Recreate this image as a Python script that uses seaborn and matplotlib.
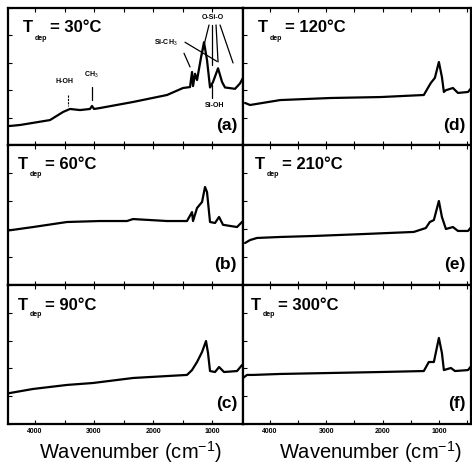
import matplotlib
matplotlib.use("Agg")
import matplotlib.pyplot as plt
import matplotlib.transforms as mtransforms
import seaborn as sns
import pandas as pd
from matplotlib.ticker import MultipleLocator

# ---------------- data ----------------
panel_ids = ["a", "b", "c", "d", "e", "f"]
temps = ["30", "60", "90", "120", "210", "300"]

wn_a = [4450, 4424, 4254, 3746, 3525, 3407, 3237, 3068, 3034, 3000, 2898, 2339, 1763, 1492,
        1373, 1339, 1322, 1288, 1254, 1186, 1136, 1085, 1034, 983, 898, 830, 780, 610, 525, 475]
ab_a = [0.139, 0.139, 0.146, 0.182, 0.241, 0.263, 0.255, 0.263, 0.285, 0.263, 0.270, 0.314, 0.365, 0.416,
        0.423, 0.533, 0.43, 0.52, 0.474, 0.64, 0.75, 0.62, 0.42, 0.46, 0.56, 0.46, 0.42, 0.41, 0.45, 0.49]

wn_b = [4450, 4390, 4034, 3458, 2898, 2441, 2339, 1763, 1424, 1339, 1322, 1254, 1169, 1119, 1085,
        1034, 949, 881, 814, 576, 492]
ab_b = [0.39, 0.393, 0.414, 0.45, 0.457, 0.457, 0.471, 0.457, 0.457, 0.521, 0.457, 0.55, 0.593, 0.70, 0.664,
        0.45, 0.443, 0.486, 0.43, 0.414, 0.45]

wn_c = [4450, 4424, 4034, 3458, 3017, 2339, 1763, 1424, 1339, 1254, 1169, 1102, 1068, 1034, 949, 881,
        797, 576, 492]
ab_c = [0.22, 0.223, 0.252, 0.281, 0.295, 0.331, 0.345, 0.353, 0.388, 0.446, 0.518, 0.597, 0.511, 0.381,
        0.374, 0.41, 0.374, 0.381, 0.424]

wn_d = [4446, 4357, 3821, 2929, 2036, 1268, 1196, 1143, 1071, 1036, 1000, 946, 911, 875, 750, 661, 482, 411]
ab_d = [0.307, 0.292, 0.328, 0.343, 0.35, 0.365, 0.416, 0.453, 0.49, 0.547, 0.606, 0.496, 0.387, 0.40,
        0.416, 0.38, 0.387, 0.423]

wn_e = [4446, 4357, 4232, 3821, 3232, 2339, 1446, 1232, 1161, 1089, 1000, 946, 875, 750, 661, 482, 411]
ab_e = [0.30, 0.321, 0.336, 0.343, 0.35, 0.364, 0.379, 0.407, 0.45, 0.464, 0.60, 0.486, 0.40, 0.414,
        0.386, 0.386, 0.421]

wn_f = [4482, 4411, 4304, 3821, 2929, 2036, 1268, 1179, 1089, 1000, 946, 911, 786, 714, 482, 411]
ab_f = [0.331, 0.353, 0.353, 0.36, 0.367, 0.374, 0.381, 0.446, 0.446, 0.619, 0.511, 0.388, 0.403, 0.381,
        0.388, 0.424]

xtick_values = [4000, 3000, 2000, 1000]
xtick_labels = ["4000", "3000", "2000", "1000"]
x_label = "Wavenumber (cm$^{-1}$)"

spectra = [(wn_a, ab_a), (wn_b, ab_b), (wn_c, ab_c), (wn_d, ab_d), (wn_e, ab_e), (wn_f, ab_f)]

# ---------------- styling ----------------
sns.set_theme(style="white")
plt.rcParams['font.family'] = ['Liberation Sans', 'DejaVu Sans']
plt.rcParams['mathtext.fontset'] = 'custom'
plt.rcParams['mathtext.rm'] = 'Liberation Sans'
plt.rcParams['mathtext.bf'] = 'Liberation Sans:bold'
plt.rcParams['mathtext.it'] = 'Liberation Sans:italic'
plt.rcParams['text.color'] = 'black'
plt.rcParams['axes.labelcolor'] = 'black'
plt.rcParams['xtick.color'] = 'black'
plt.rcParams['ytick.color'] = 'black'

W, H = 472, 474
fig = plt.figure(figsize=(W / 100, H / 100), dpi=100)
fig.patch.set_facecolor("white")

col_px = [(8, 243), (243, 471)]
row_px = [(8, 145), (145, 285), (285, 424)]
col_xlim = [(4458, 475), (4482, 429)]
title_dx = [15, 10, 10, 15, 12, 8]

axes = []
for i, pid in enumerate(panel_ids):
    c, r = divmod(i, 3)
    x0, x1 = col_px[c]
    y0, y1 = row_px[r]
    ax = fig.add_axes([x0 / W, (H - y1) / H, (x1 - x0) / W, (y1 - y0) / H])
    wn, ab = spectra[i]
    df = pd.DataFrame({"wn": wn, "ab": ab})
    sns.lineplot(data=df, x="wn", y="ab", ax=ax, color="black", lw=1.6,
                 sort=False, estimator=None)
    ax.set_xlim(*col_xlim[c])
    ax.set_ylim(0, 1)
    ax.set_xlabel("")
    ax.set_ylabel("")
    ax.xaxis.set_major_locator(MultipleLocator(1000))
    ax.xaxis.set_minor_locator(MultipleLocator(500))
    ax.yaxis.set_major_locator(MultipleLocator(0.2))
    ax.tick_params(axis="x", which="both", direction="in", top=True, bottom=True,
                   length=3, width=0.8, color="black")
    ax.tick_params(axis="y", which="both", direction="in", left=True, right=False,
                   length=3, width=0.8, color="black", labelleft=False)
    if r == 2:
        ax.set_xticks(xtick_values)
        ax.set_xticklabels(xtick_labels, fontsize=5, fontweight="bold", color="black")
        ax.tick_params(axis="x", pad=3)
    else:
        ax.tick_params(axis="x", labelbottom=False)
    for sp in ax.spines.values():
        sp.set_visible(True)
        sp.set_color("black")
        sp.set_linewidth(1.6)
    ax.set_facecolor("white")
    # title: T, tiny subscript "dep", then "= xx°C"
    dx = title_dx[i]
    base = mtransforms.offset_copy(ax.transAxes, fig=fig, x=dx, y=-20, units="dots")
    ax.text(0, 1, "T", transform=base, ha="left", va="center", fontsize=12,
            fontweight="bold", color="black")
    sub = mtransforms.offset_copy(ax.transAxes, fig=fig, x=dx + 12, y=-30, units="dots")
    ax.text(0, 1, "dep", transform=sub, ha="left", va="center", fontsize=5,
            fontweight="bold", color="black")
    rest = mtransforms.offset_copy(ax.transAxes, fig=fig, x=dx + 27, y=-20, units="dots")
    ax.text(0, 1, "= " + temps[i] + "°C", transform=rest, ha="left", va="center",
            fontsize=12, fontweight="bold", color="black")
    ax.text(0.975, 0.145, "(" + pid + ")", transform=ax.transAxes,
            ha="right", va="center", fontsize=12.5, fontweight="bold", color="black")
    axes.append(ax)

# annotations in panel (a)
axa = axes[0]
af = dict(fontsize=5, fontweight="bold", ha="center", va="center", color="black")
axa.text(3492, 0.46, "H-OH", **af)
axa.plot([3441, 3441], [0.365, 0.285], color="black", lw=0.8, ls=(0, (2, 1)))
axa.text(3051, 0.51, "CH$_3$", **af)
axa.plot([3034, 3034], [0.42, 0.33], color="black", lw=0.9)
axa.text(1780, 0.745, "Si-CH$_3$", **af)
axa.plot([1475, 1373], [0.67, 0.57], color="black", lw=0.9)
axa.plot([1458, 915], [0.75, 0.61], color="black", lw=0.9)
axa.text(983, 0.934, "O-Si-O", **af)
for (xs, ys) in [([1051, 1186], [0.876, 0.642]), ([1000, 1000], [0.876, 0.584]),
                 ([932, 898], [0.876, 0.606]), ([864, 644], [0.876, 0.599])]:
    axa.plot(xs, ys, color="black", lw=0.9)
axa.text(949, 0.285, "Si-OH", **af)
axa.plot([1000, 1000], [0.438, 0.343], color="black", lw=0.9)

fig.text(130 / W, (H - 452) / H, x_label, ha="center", va="center", fontsize=14.5,
         color="black")
fig.text(370 / W, (H - 452) / H, x_label, ha="center", va="center", fontsize=14.5,
         color="black")

fig.savefig("out.png", dpi=100, facecolor="white")
